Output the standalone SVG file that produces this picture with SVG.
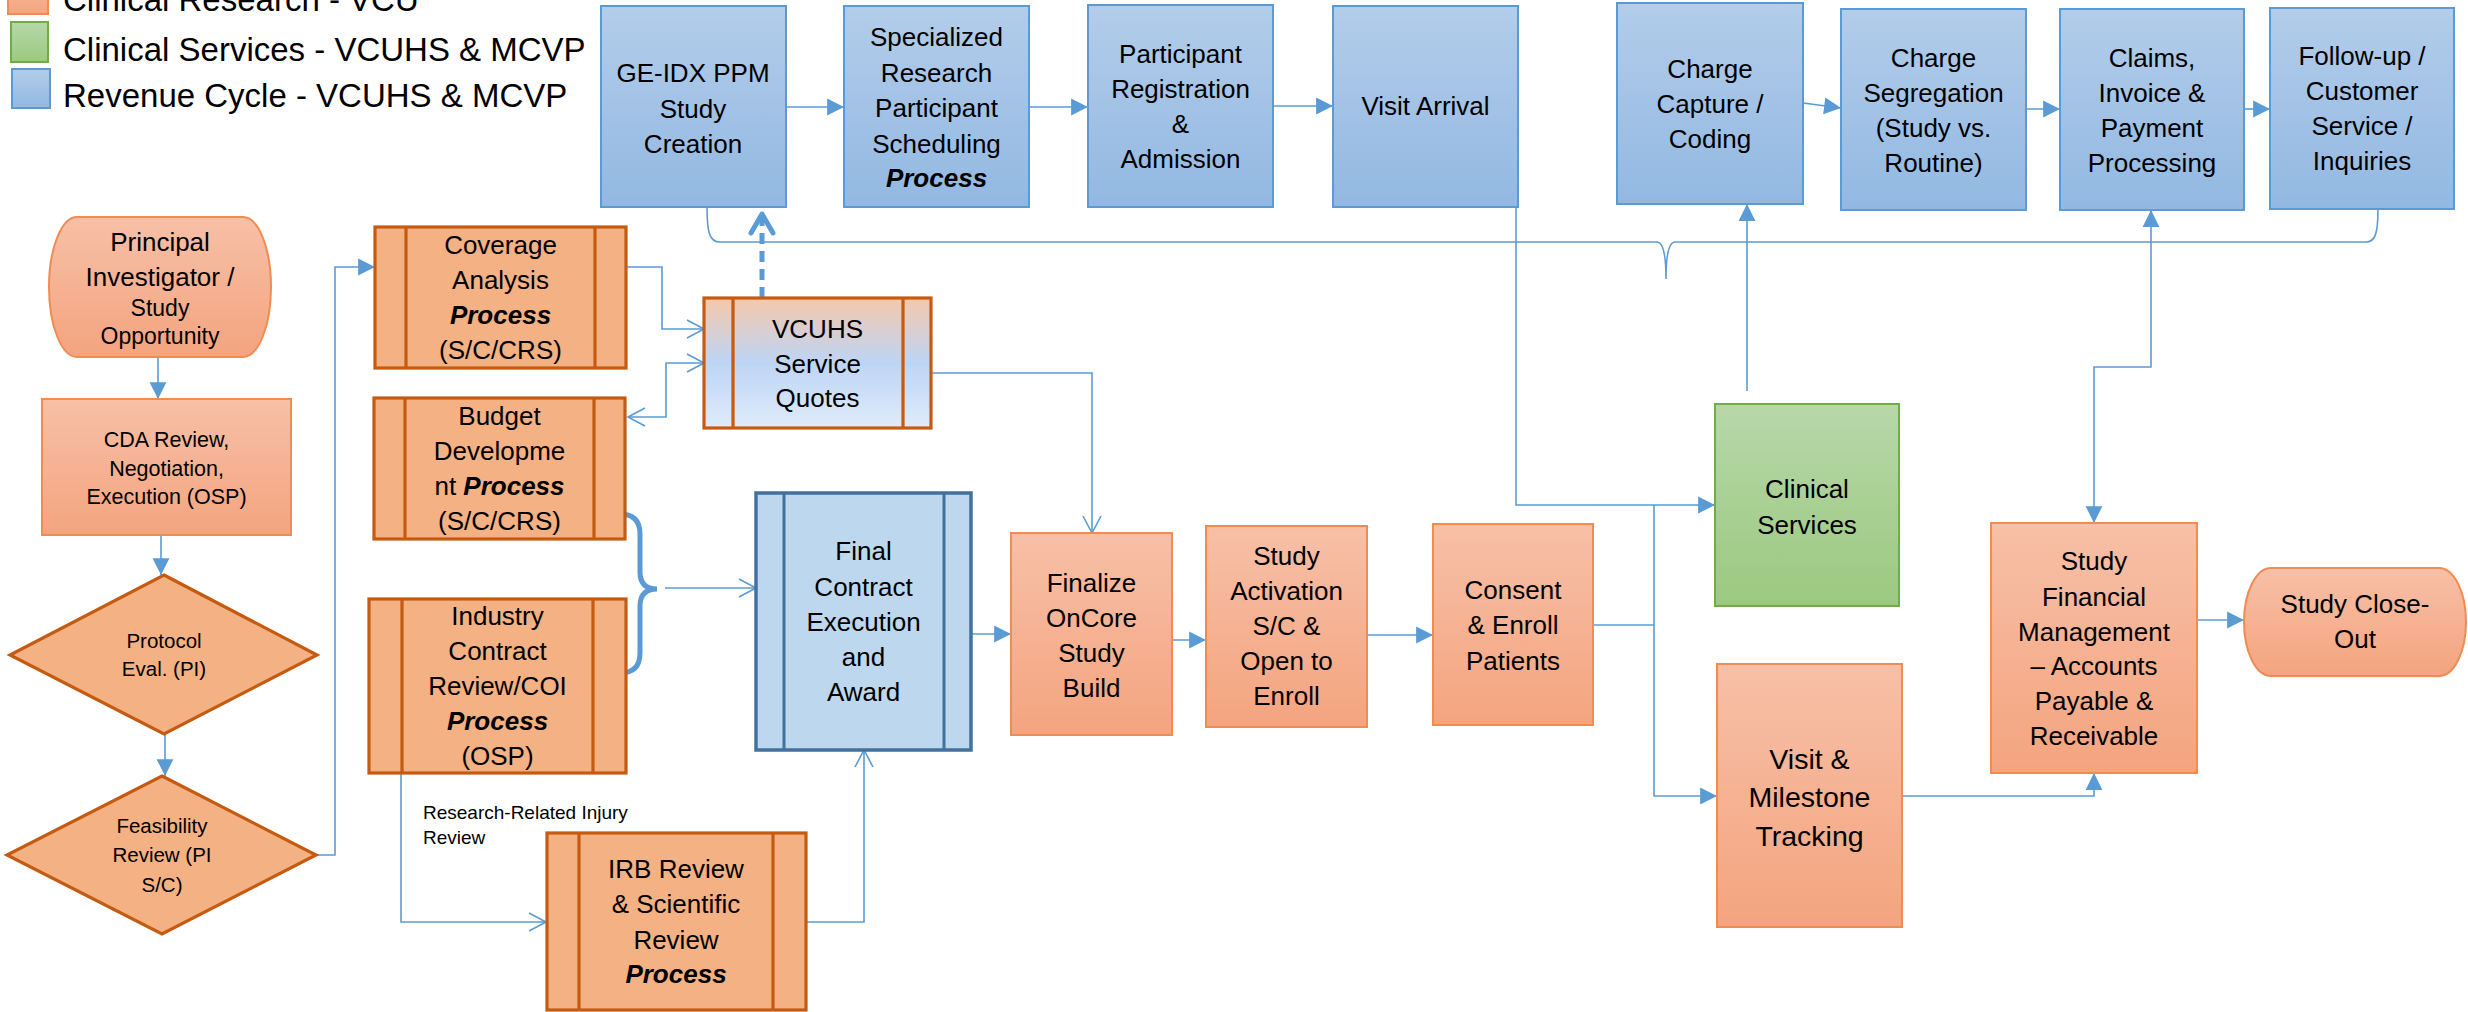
<svg xmlns="http://www.w3.org/2000/svg" width="2468" height="1012" viewBox="0 0 2468 1012">
<defs>
<linearGradient id="og" x1="0" y1="0" x2="0" y2="1"><stop offset="0" stop-color="#f7c0a7"/><stop offset="1" stop-color="#f4a47f"/></linearGradient>
<linearGradient id="bg" x1="0" y1="0" x2="0" y2="1"><stop offset="0" stop-color="#b3cdea"/><stop offset="1" stop-color="#92b8e2"/></linearGradient>
<linearGradient id="gg" x1="0" y1="0" x2="0" y2="1"><stop offset="0" stop-color="#b7d7a9"/><stop offset="1" stop-color="#9cc980"/></linearGradient>
<linearGradient id="vg" x1="0" y1="0" x2="0" y2="1"><stop offset="0" stop-color="#f6c8ab"/><stop offset="0.5" stop-color="#bdd5f5"/><stop offset="1" stop-color="#e0ebfb"/></linearGradient>
<marker id="fa" markerUnits="userSpaceOnUse" markerWidth="18" markerHeight="18" viewBox="0 0 16 16" refX="15" refY="8" orient="auto-start-reverse" overflow="visible"><path d="M0,0.5 L15,8 L0,15.5 Z" fill="#5b9bd5"/></marker>
<marker id="oa" markerUnits="userSpaceOnUse" markerWidth="20" markerHeight="20" viewBox="0 0 20 20" refX="18" refY="10" orient="auto-start-reverse" overflow="visible"><path d="M1,1 L18,10 L1,19" fill="none" stroke="#5b9bd5" stroke-width="1.6"/></marker>
<marker id="da" markerUnits="userSpaceOnUse" markerWidth="30" markerHeight="30" viewBox="0 0 30 30" refX="25" refY="15" orient="auto" overflow="visible"><path d="M6,4 L25,15 L6,26" fill="none" stroke="#5b9bd5" stroke-width="5" stroke-linecap="round" stroke-linejoin="round"/></marker>
</defs>
<style>
text{font-family:"Liberation Sans",Arial,sans-serif;fill:#000;}
.t{font-size:26px;text-anchor:middle;}
.s{font-size:21px;text-anchor:middle;}
.lg{font-size:33px;}
.bi{font-weight:bold;font-style:italic;}
.cr{fill:url(#og);stroke:#f08c50;stroke-width:2;}
.pr{fill:#f4b183;stroke:#c55a11;stroke-width:3.2;}
.pl{stroke:#c55a11;stroke-width:3.2;fill:none;}
.rc{fill:url(#bg);stroke:#5b9bd5;stroke-width:2;}
.cs{fill:url(#gg);stroke:#70ad47;stroke-width:2;}
.c{fill:none;stroke:#5b9bd5;stroke-width:1.6;}
</style>
<rect width="2468" height="1012" fill="#fff"/>

<g id="legend">
<rect x="8" y="-26" width="40" height="40" class="cr"/>
<rect x="11" y="22" width="37" height="40" class="cs"/>
<rect x="12" y="69" width="38" height="39" class="rc"/>
<text class="lg" x="63" y="11">Clinical Research - VCU</text>
<text class="lg" x="63" y="61">Clinical Services - VCUHS &amp; MCVP</text>
<text class="lg" x="63" y="107">Revenue Cycle - VCUHS &amp; MCVP</text>
</g>

<g id="connectors">
<path class="c" d="M786,107 H844" marker-end="url(#fa)"/>
<path class="c" d="M1029,107 H1088" marker-end="url(#fa)"/>
<path class="c" d="M1273,106 H1333" marker-end="url(#fa)"/>
<path class="c" d="M1803,103 L1841,108" marker-end="url(#fa)"/>
<path class="c" d="M2026,109 H2060" marker-end="url(#fa)"/>
<path class="c" d="M2244,109 H2270" marker-end="url(#fa)"/>
<path class="c" d="M707,207 C707,234 710,242 720,242 H1657 Q1666,242 1666,279 M1666,279 Q1666,242 1675,242 H2366 C2375,242 2378,234 2378,209"/>
<path class="c" d="M158,358 V399" marker-end="url(#fa)"/>
<path class="c" d="M161,536 V575" marker-end="url(#fa)"/>
<path class="c" d="M165,734 V776" marker-end="url(#fa)"/>
<path class="c" d="M316,855 H335 V267 H375" marker-end="url(#fa)"/>
<path class="c" d="M616,267 H662 V329 H704" marker-end="url(#oa)"/>
<path class="c" d="M628,417 H666 V363 H704" marker-start="url(#oa)" marker-end="url(#oa)"/>
<path class="c" d="M931,373 H1092 V533" marker-end="url(#oa)"/>
<path d="M762,298 V214" fill="none" stroke="#5b9bd5" stroke-width="5" stroke-dasharray="11 7" marker-end="url(#da)"/>
<path d="M620,514 Q640,514 640,534 V572 Q640,589 657,589 Q640,589 640,606 V653 Q640,673 620,673" fill="none" stroke="#5b9bd5" stroke-width="5"/>
<path class="c" d="M665,588 H756" marker-end="url(#oa)"/>
<path class="c" d="M401,773 V922 H546" marker-end="url(#oa)"/>
<path class="c" d="M806,922 H864 V750" marker-end="url(#oa)"/>
<path class="c" d="M971,634 H1011" marker-end="url(#fa)"/>
<path class="c" d="M1172,640 H1206" marker-end="url(#fa)"/>
<path class="c" d="M1367,635 H1433" marker-end="url(#fa)"/>
<path class="c" d="M1593,625 H1654"/>
<path class="c" d="M1654,505 V796 H1717" marker-end="url(#fa)"/>
<path class="c" d="M1516,207 V505 H1715" marker-end="url(#fa)"/>
<path class="c" d="M1747,391 V204" marker-end="url(#fa)"/>
<path class="c" d="M1902,796 H2094 V773" marker-end="url(#fa)"/>
<path class="c" d="M2094,523 V367 H2151 V210" marker-start="url(#fa)" marker-end="url(#fa)"/>
<path class="c" d="M2197,620 H2244" marker-end="url(#fa)"/>
</g>

<g id="ge-idx">
<rect x="601" y="6" width="185" height="201" class="rc"/>
<text class="t" x="693"><tspan x="693" y="82">GE-IDX PPM</tspan><tspan x="693" y="118">Study</tspan><tspan x="693" y="153">Creation</tspan></text>
</g>
<g id="scheduling">
<rect x="844" y="6" width="185" height="201" class="rc"/>
<text class="t"><tspan x="936.5" y="46">Specialized</tspan><tspan x="936.5" y="82">Research</tspan><tspan x="936.5" y="117">Participant</tspan><tspan x="936.5" y="153">Scheduling</tspan><tspan x="936.5" y="187" class="bi">Process</tspan></text>
</g>
<g id="registration">
<rect x="1088" y="5" width="185" height="202" class="rc"/>
<text class="t"><tspan x="1180.5" y="63">Participant</tspan><tspan x="1180.5" y="98">Registration</tspan><tspan x="1180.5" y="133">&amp;</tspan><tspan x="1180.5" y="168">Admission</tspan></text>
</g>
<g id="visit-arrival">
<rect x="1333" y="6" width="185" height="201" class="rc"/>
<text class="t" x="1425.5" y="115">Visit Arrival</text>
</g>
<g id="charge-capture">
<rect x="1617" y="3" width="186" height="201" class="rc"/>
<text class="t"><tspan x="1710" y="78">Charge</tspan><tspan x="1710" y="113">Capture /</tspan><tspan x="1710" y="148">Coding</tspan></text>
</g>
<g id="charge-segregation">
<rect x="1841" y="9" width="185" height="201" class="rc"/>
<text class="t"><tspan x="1933.5" y="67">Charge</tspan><tspan x="1933.5" y="102">Segregation</tspan><tspan x="1933.5" y="137">(Study vs.</tspan><tspan x="1933.5" y="172">Routine)</tspan></text>
</g>
<g id="claims">
<rect x="2060" y="9" width="184" height="201" class="rc"/>
<text class="t"><tspan x="2152" y="67">Claims,</tspan><tspan x="2152" y="102">Invoice &amp;</tspan><tspan x="2152" y="137">Payment</tspan><tspan x="2152" y="172">Processing</tspan></text>
</g>
<g id="follow-up">
<rect x="2270" y="8" width="184" height="201" class="rc"/>
<text class="t"><tspan x="2362" y="65">Follow-up /</tspan><tspan x="2362" y="100">Customer</tspan><tspan x="2362" y="135">Service /</tspan><tspan x="2362" y="170">Inquiries</tspan></text>
</g>

<g id="pi">
<rect x="49" y="217" width="222" height="140" rx="28" ry="70" class="cr"/>
<text class="t"><tspan x="160" y="251">Principal</tspan><tspan x="160" y="286">Investigator /</tspan><tspan x="160" y="316" style="font-size:23px">Study</tspan><tspan x="160" y="344" style="font-size:23px">Opportunity</tspan></text>
</g>
<g id="cda">
<rect x="42" y="399" width="249" height="136" class="cr"/>
<text class="s" style="font-size:21.5px"><tspan x="166.5" y="447">CDA Review,</tspan><tspan x="166.5" y="476">Negotiation,</tspan><tspan x="166.5" y="504">Execution (OSP)</tspan></text>
</g>
<g id="protocol">
<polygon points="164,575 317,655 164,734 10,655" class="pr"/>
<text class="s" style="font-size:20.5px"><tspan x="164" y="648">Protocol</tspan><tspan x="164" y="676">Eval. (PI)</tspan></text>
</g>
<g id="feasibility">
<polygon points="162,776 316,855 162,934 7,855" class="pr"/>
<text class="s" style="font-size:20.5px"><tspan x="162" y="833">Feasibility</tspan><tspan x="162" y="862">Review (PI</tspan><tspan x="162" y="892">S/C)</tspan></text>
</g>
<g id="coverage">
<rect x="375" y="227" width="251" height="141" class="pr"/>
<path class="pl" d="M406,227 V368 M595,227 V368"/>
<text class="t"><tspan x="500.5" y="254">Coverage</tspan><tspan x="500.5" y="289">Analysis</tspan><tspan x="500.5" y="324" class="bi">Process</tspan><tspan x="500.5" y="359">(S/C/CRS)</tspan></text>
</g>
<g id="budget">
<rect x="374" y="398" width="251" height="141" class="pr"/>
<path class="pl" d="M405,398 V539 M594,398 V539"/>
<text class="t"><tspan x="499.5" y="425">Budget</tspan><tspan x="499.5" y="460">Developme</tspan><tspan x="499.5" y="495">nt <tspan class="bi">Process</tspan></tspan><tspan x="499.5" y="530">(S/C/CRS)</tspan></text>
</g>
<g id="industry">
<rect x="369" y="599" width="257" height="174" class="pr"/>
<path class="pl" d="M402,599 V773 M593,599 V773"/>
<text class="t"><tspan x="497.5" y="625">Industry</tspan><tspan x="497.5" y="660">Contract</tspan><tspan x="497.5" y="695">Review/COI</tspan><tspan x="497.5" y="730" class="bi">Process</tspan><tspan x="497.5" y="765">(OSP)</tspan></text>
</g>
<g id="rri-label">
<text style="font-size:19px"><tspan x="423" y="819">Research-Related Injury</tspan><tspan x="423" y="844">Review</tspan></text>
</g>
<g id="irb">
<rect x="547" y="833" width="259" height="177" class="pr"/>
<path class="pl" d="M579,833 V1010 M773,833 V1010"/>
<text class="t"><tspan x="676" y="878">IRB Review</tspan><tspan x="676" y="913">&amp; Scientific</tspan><tspan x="676" y="949">Review</tspan><tspan x="676" y="983" class="bi">Process</tspan></text>
</g>
<g id="vcuhs-quotes">
<rect x="704" y="298" width="227" height="130" fill="url(#vg)" stroke="#c55a11" stroke-width="3.2"/>
<path class="pl" d="M733,298 V428 M903,298 V428"/>
<text class="t"><tspan x="817.5" y="338">VCUHS</tspan><tspan x="817.5" y="373">Service</tspan><tspan x="817.5" y="407">Quotes</tspan></text>
</g>
<g id="final-contract">
<rect x="756" y="493" width="215" height="257" fill="#bdd7ee" stroke="#41719c" stroke-width="3.5"/>
<path d="M784,493 V750 M944,493 V750" stroke="#41719c" stroke-width="3" fill="none"/>
<text class="t"><tspan x="863.5" y="560">Final</tspan><tspan x="863.5" y="596">Contract</tspan><tspan x="863.5" y="631">Execution</tspan><tspan x="863.5" y="666">and</tspan><tspan x="863.5" y="701">Award</tspan></text>
</g>
<g id="finalize-oncore">
<rect x="1011" y="533" width="161" height="202" class="cr"/>
<text class="t"><tspan x="1091.5" y="592">Finalize</tspan><tspan x="1091.5" y="627">OnCore</tspan><tspan x="1091.5" y="662">Study</tspan><tspan x="1091.5" y="697">Build</tspan></text>
</g>
<g id="study-activation">
<rect x="1206" y="526" width="161" height="201" class="cr"/>
<text class="t"><tspan x="1286.5" y="565">Study</tspan><tspan x="1286.5" y="600">Activation</tspan><tspan x="1286.5" y="635">S/C &amp;</tspan><tspan x="1286.5" y="670">Open to</tspan><tspan x="1286.5" y="705">Enroll</tspan></text>
</g>
<g id="consent">
<rect x="1433" y="524" width="160" height="201" class="cr"/>
<text class="t"><tspan x="1513" y="599">Consent</tspan><tspan x="1513" y="634">&amp; Enroll</tspan><tspan x="1513" y="670">Patients</tspan></text>
</g>
<g id="clinical-services">
<rect x="1715" y="404" width="184" height="202" class="cs"/>
<text class="t"><tspan x="1807" y="498">Clinical</tspan><tspan x="1807" y="534">Services</tspan></text>
</g>
<g id="visit-milestone">
<rect x="1717" y="664" width="185" height="263" class="cr"/>
<text class="t" style="font-size:28.5px"><tspan x="1809.5" y="769">Visit &amp;</tspan><tspan x="1809.5" y="807">Milestone</tspan><tspan x="1809.5" y="846">Tracking</tspan></text>
</g>
<g id="study-financial">
<rect x="1991" y="523" width="206" height="250" class="cr"/>
<text class="t"><tspan x="2094" y="570">Study</tspan><tspan x="2094" y="606">Financial</tspan><tspan x="2094" y="641">Management</tspan><tspan x="2094" y="675">– Accounts</tspan><tspan x="2094" y="710">Payable &amp;</tspan><tspan x="2094" y="745">Receivable</tspan></text>
</g>
<g id="close-out">
<rect x="2244" y="568" width="222" height="108" rx="27" ry="54" class="cr"/>
<text class="t"><tspan x="2355" y="613">Study Close-</tspan><tspan x="2355" y="648">Out</tspan></text>
</g>
</svg>
